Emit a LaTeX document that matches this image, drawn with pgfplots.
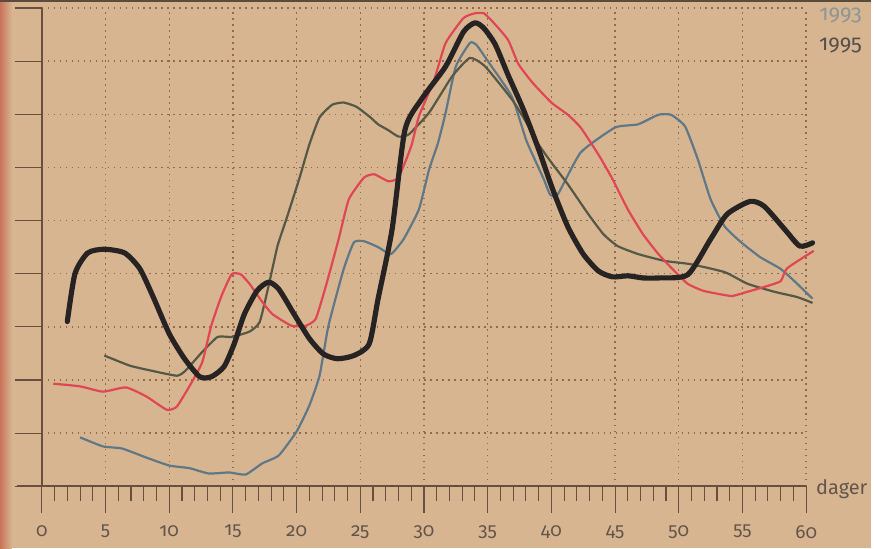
\documentclass[border=0pt]{standalone}
\usepackage{fontspec}
\setmainfont{Fira Sans}[Numbers=OldStyle]
\usepackage{pgfplots}
\pgfplotsset{compat=1.18}

\definecolor{paper}{RGB}{215,181,145}
\definecolor{edge}{RGB}{200,115,90}
\definecolor{topedge}{RGB}{90,75,60}
\definecolor{gridc}{RGB}{150,105,75}
\definecolor{axisc}{RGB}{105,80,62}
\definecolor{txt}{RGB}{100,85,75}
\definecolor{lred}{RGB}{225,70,85}
\definecolor{lblue}{RGB}{95,120,135}
\definecolor{lolive}{RGB}{85,88,70}
\definecolor{lblack}{RGB}{40,35,35}
\definecolor{yr93}{RGB}{140,150,150}
\definecolor{yr95}{RGB}{85,80,75}

\begin{document}
\begin{tikzpicture}
% paper, 1px = 0.5pt
\fill[paper] (-21pt,-31pt) rectangle (416pt,244pt);
\shade[left color=edge,right color=paper] (-21pt,-31pt) rectangle (-15pt,244pt);
\fill[topedge] (-21pt,243pt) rectangle (416pt,244pt);
\begin{axis}[
  scale only axis, width=383.5pt, height=240pt,
  xmin=0, xmax=60, ymin=0, ymax=9,
  clip=false,
  axis line style={draw=none},
  xtick={0,5,...,60}, minor x tick num=4,
  ytick={0,...,9}, yticklabels={},
  grid=major,
  major grid style={gridc, line width=0.7pt, dash pattern=on 0.8pt off 2.2pt},
  tick align=outside, xtick pos=bottom, ytick pos=left,
  major tick length=13.5pt, minor tick length=7.5pt,
  every tick/.style={axisc, line width=0.55pt},
  tick label style={font=\fontsize{9.5}{10}\selectfont, text=txt},
  xticklabel style={yshift=-2.5pt},
  /pgf/number format/assume math mode=true,
]
\draw[axisc, line width=0.7pt] (axis cs:0,0) -- (axis cs:0,9);
\draw[axisc, line width=0.8pt] (axis cs:-1.95,0) -- (axis cs:60,0);

\addplot[lblue, line width=1.1pt, smooth, tension=0.3] coordinates {
(3.0,0.92)(4.8,0.75)(6.3,0.71)(8.2,0.54)(10.0,0.39)(11.6,0.34)(13.1,0.24)(14.7,0.26)(16.0,0.22)(17.3,0.43)(18.6,0.58)(20.0,1.03)(21.0,1.52)(21.8,2.08)(22.5,3.02)(23.7,4.09)(24.5,4.59)(25.3,4.61)(26.4,4.50)(27.4,4.37)(28.4,4.65)(29.6,5.21)(30.4,5.96)(31.1,6.46)(31.7,7.03)(32.5,7.9)(33.6,8.34)(34.1,8.31)(35.1,7.97)(36.9,7.33)(38.0,6.53)(38.6,6.2)(39.4,5.78)(39.9,5.49)(40.5,5.49)(42.3,6.28)(45.0,6.75)(46.8,6.81)(48.4,6.99)(49.4,6.99)(50.5,6.77)(51.5,6.15)(52.5,5.4)(53.6,4.89)(54.9,4.59)(56.4,4.31)(58.0,4.09)(59.3,3.81)(60.5,3.53)
};
\addplot[lolive, line width=1.1pt, smooth, tension=0.3] coordinates {
(4.9,2.46)(6.9,2.27)(8.5,2.18)(10.6,2.08)(11.3,2.18)(12.6,2.53)(13.8,2.81)(14.9,2.81)(16.3,2.91)(17.1,3.09)(17.8,3.77)(18.5,4.52)(19.2,5.03)(20.2,5.78)(21.0,6.43)(21.8,6.94)(22.8,7.18)(23.7,7.22)(24.7,7.14)(25.8,6.94)(26.4,6.81)(27.2,6.7)(28.0,6.58)(28.8,6.62)(30.4,7.03)(32.2,7.71)(33.6,8.06)(34.8,7.9)(36.9,7.28)(37.9,6.9)(39.0,6.43)(40.1,6.06)(41.3,5.68)(42.9,5.12)(44.1,4.74)(45.2,4.52)(46.8,4.37)(48.9,4.24)(50.9,4.18)(53.6,4.03)(55.4,3.81)(57.5,3.66)(59.3,3.56)(60.5,3.45)
};
\addplot[lred, line width=1.1pt, smooth, tension=0.3] coordinates {
(0.9,1.93)(3.0,1.88)(4.8,1.78)(6.6,1.86)(8.2,1.69)(9.8,1.44)(10.6,1.50)(11.8,1.97)(12.6,2.34)(13.3,3.02)(14.1,3.58)(14.9,3.99)(15.6,3.99)(16.3,3.81)(17.3,3.47)(18.1,3.24)(19.6,3.02)(20.7,3.02)(21.5,3.15)(22.3,3.77)(23.3,4.65)(24.1,5.40)(25.3,5.81)(26.1,5.87)(27.2,5.74)(28.0,5.81)(29.0,6.4)(29.6,6.96)(30.8,7.65)(31.7,8.34)(33.1,8.81)(34.0,8.9)(34.7,8.9)(35.4,8.74)(36.6,8.40)(37.4,7.95)(38.5,7.6)(40.0,7.22)(41.3,6.99)(42.3,6.75)(43.7,6.24)(44.8,5.78)(46.0,5.21)(47.2,4.74)(48.4,4.37)(49.5,4.09)(50.7,3.81)(51.9,3.68)(53.1,3.62)(54.2,3.58)(55.4,3.66)(56.7,3.75)(58.0,3.86)(58.5,4.1)(60.6,4.43)
};
\addplot[lblack, line width=2.6pt, smooth, tension=0.4, line cap=round, line join=round] coordinates {
(2.0,3.1)(2.6,4.0)(3.6,4.39)(4.9,4.46)(6.5,4.39)(7.7,4.09)(8.8,3.53)(10.0,2.87)(11.2,2.4)(12.4,2.06)(13.3,2.06)(14.3,2.25)(15.1,2.68)(15.9,3.24)(16.9,3.68)(17.8,3.84)(18.6,3.71)(19.8,3.24)(21.0,2.78)(22.1,2.49)(23.2,2.40)(24.5,2.46)(25.7,2.68)(26.4,3.53)(27.5,4.84)(28.5,6.7)(29.8,7.28)(31.7,7.9)(33.1,8.55)(34.0,8.72)(34.7,8.62)(35.6,8.31)(36.6,7.74)(37.8,7.09)(39.0,6.34)(40.1,5.59)(41.3,4.88)(42.5,4.37)(43.7,4.05)(44.8,3.94)(46.0,3.96)(47.2,3.92)(48.4,3.92)(50.7,3.98)(52.5,4.65)(53.8,5.12)(55.6,5.36)(56.7,5.27)(58.3,4.84)(59.5,4.52)(60.5,4.58)
};

\node[text=txt, font=\fontsize{10}{11}\selectfont] at (axis cs:62.8,-0.05) {dager};
\node[text=yr93, font=\fontsize{11}{12}\selectfont] at (axis cs:62.7,8.85) {1993};
\node[text=yr95, font=\fontsize{11}{12}\selectfont] at (axis cs:62.7,8.29) {1995};
\end{axis}
\end{tikzpicture}
\end{document}
